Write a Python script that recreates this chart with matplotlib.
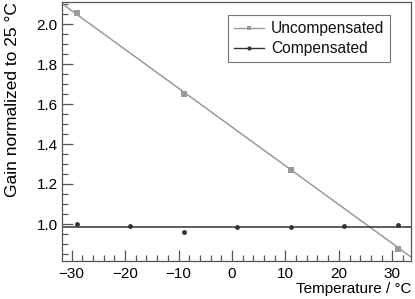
import matplotlib
matplotlib.use("Agg")
import matplotlib.pyplot as plt
from matplotlib.ticker import MultipleLocator, FuncFormatter
import numpy as np

plt.rcParams['font.family'] = ['Liberation Sans', 'DejaVu Sans']

# Data
temp_uncomp = [-29, -9, 11, 31]
gain_uncomp = [2.055, 1.65, 1.27, 0.875]
temp_comp = [-29, -19, -9, 1, 11, 21, 31]
gain_comp = [1.0, 0.99, 0.96, 0.985, 0.985, 0.99, 0.995]
fit_uncomp = (-0.0194, 1.485)   # slope, intercept
fit_comp = (0.0, 0.986)

xlim = (-31.8, 33.5)
ylim = (0.815, 2.11)

W, H = 415, 299
fig = plt.figure(figsize=(W/100, H/100), dpi=100)
ax = fig.add_axes([62/W, 38/H, (411-62)/W, (261-2)/H])

c_unc = '#9a9a9a'
c_com = '#333333'

xs = np.array(xlim)
ax.plot(xs, fit_uncomp[0]*xs + fit_uncomp[1], color=c_unc, lw=1.1)
ax.plot(xs, fit_comp[0]*xs + fit_comp[1], color=c_com, lw=1.1)
ax.plot(temp_uncomp, gain_uncomp, 's', color=c_unc, ms=4, mew=0)
ax.plot(temp_comp, gain_comp, 'o', color=c_com, ms=3.5, mew=0)

# legend proxies
ax.plot([], [], '-s', color=c_unc, ms=3, mew=0, lw=1.0, label='Uncompensated')
ax.plot([], [], '-o', color=c_com, ms=3, mew=0, lw=1.0, label='Compensated')
handles, labels = ax.get_legend_handles_labels()
leg = fig.legend(handles, labels, loc='upper left',
                 bbox_to_anchor=(228/W, 1-15/H), bbox_transform=fig.transFigure,
                 frameon=True, fancybox=False, fontsize=11.2, handlelength=1.9,
                 handletextpad=0.45, borderpad=0.4, labelspacing=0.32, borderaxespad=0)
leg.get_frame().set_edgecolor('#555555')
leg.get_frame().set_linewidth(0.8)
for t in leg.get_texts():
    t.set_color('#111111')

ax.set_xlim(*xlim)
ax.set_ylim(*ylim)
ax.xaxis.set_major_locator(MultipleLocator(10))
ax.xaxis.set_minor_locator(MultipleLocator(2))
ax.yaxis.set_major_locator(MultipleLocator(0.2))
ax.yaxis.set_minor_locator(MultipleLocator(0.05))
ax.xaxis.set_major_formatter(FuncFormatter(lambda v, p: f"{v:.0f}".replace('-', '\u2212')))
ax.yaxis.set_major_formatter(FuncFormatter(lambda v, p: f"{v:.1f}"))
ax.tick_params(which='both', direction='in', top=False, right=False, labelsize=11, color='#555555')
ax.tick_params(which='major', length=8, width=0.9)
ax.tick_params(which='minor', length=4, width=0.9)
ax.tick_params(axis='x', pad=4)
ax.tick_params(axis='y', pad=3)
for s in ax.spines.values():
    s.set_color('#555555')
    s.set_linewidth(0.9)

ax.set_xlabel('Temperature / °C', fontsize=11, loc='right', labelpad=1)
ax.set_ylabel('Gain normalized to 25 °C', fontsize=12.5, loc='top', labelpad=12)

fig.savefig('out.png', dpi=100)
